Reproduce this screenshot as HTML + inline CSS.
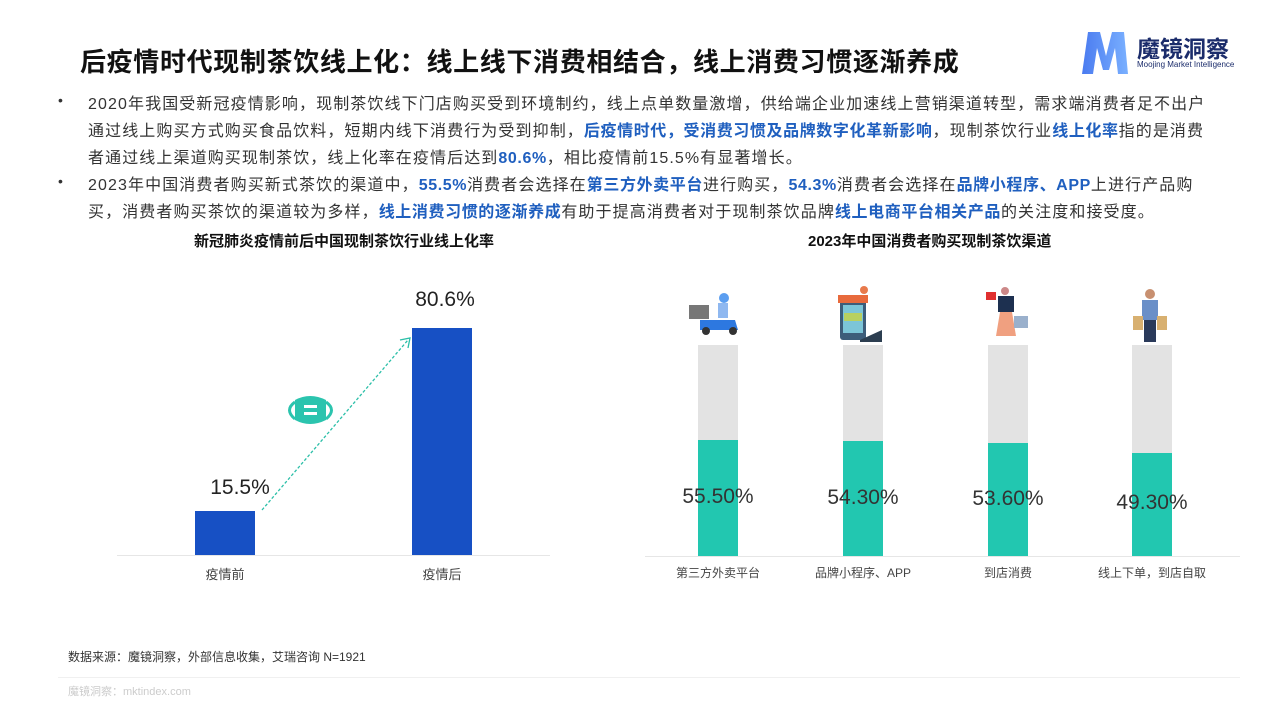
<!DOCTYPE html>
<html><head><meta charset="utf-8"><style>
body{margin:0;width:1280px;height:720px;background:#fff;position:relative;overflow:hidden;font-family:"Liberation Sans","Noto Sans CJK SC",sans-serif;color:#222}
.a{position:absolute;white-space:nowrap}
.t{left:80px;top:42px;font-size:26px;font-weight:bold;color:#111;letter-spacing:0.65px}
.p{left:88px;font-size:16px;color:#333;letter-spacing:1.1px}
.b{color:#1f5fbf;font-weight:bold;letter-spacing:0.6px}
.dot{left:58px;font-size:14px;color:#333}
.ct{font-size:15px;font-weight:bold;color:#111}
.cat{font-size:13px;color:#444;transform:translateX(-50%)}
.v{font-size:21px;color:#222;transform:translateX(-50%)}
</style></head><body>
<div class="a t">后疫情时代现制茶饮线上化：线上线下消费相结合，线上消费习惯逐渐养成</div>
<svg class="a" style="left:1078px;top:26px" width="180" height="52"><defs><linearGradient id="g" x1="0" x2="1"><stop offset="0" stop-color="#4a7bf0"/><stop offset="1" stop-color="#7ab0ff"/></linearGradient></defs><path d="M4 48 L10 6 L22 6 L28 30 L34 6 L46 6 L50 48 L40 48 L37 22 L31 44 L25 44 L19 22 L15 48Z" fill="url(#g)"/></svg>
<div class="a" style="left:1137px;top:30px;font-size:23px;font-weight:bold;color:#1b2c6b">魔镜洞察</div>
<div class="a" style="left:1137px;top:60px;font-size:8px;color:#1b2c6b">Moojing Market Intelligence</div>

<div class="a dot" style="top:92px">•</div>
<div class="a p" style="top:90px">2020年我国受新冠疫情影响，现制茶饮线下门店购买受到环境制约，线上点单数量激增，供给端企业加速线上营销渠道转型，需求端消费者足不出户</div>
<div class="a p" style="top:117px">通过线上购买方式购买食品饮料，短期内线下消费行为受到抑制，<span class="b">后疫情时代，受消费习惯及品牌数字化革新影响</span>，现制茶饮行业<span class="b">线上化率</span>指的是消费</div>
<div class="a p" style="top:144px">者通过线上渠道购买现制茶饮，线上化率在疫情后达到<span class="b">80.6%</span>，相比疫情前15.5%有显著增长。</div>
<div class="a dot" style="top:173px">•</div>
<div class="a p" style="top:171px">2023年中国消费者购买新式茶饮的渠道中，<span class="b">55.5%</span>消费者会选择在<span class="b">第三方外卖平台</span>进行购买，<span class="b">54.3%</span>消费者会选择在<span class="b">品牌小程序、APP</span>上进行产品购</div>
<div class="a p" style="top:198px">买，消费者购买茶饮的渠道较为多样，<span class="b">线上消费习惯的逐渐养成</span>有助于提高消费者对于现制茶饮品牌<span class="b">线上电商平台相关产品</span>的关注度和接受度。</div>

<div class="a ct" style="left:194px;top:230px">新冠肺炎疫情前后中国现制茶饮行业线上化率</div>
<div class="a ct" style="left:808px;top:230px">2023年中国消费者购买现制茶饮渠道</div>

<svg class="a" style="left:0;top:0" width="1280" height="720">
<line x1="117" y1="555.5" x2="550" y2="555.5" stroke="#e6e6e6"/>
<rect x="195" y="511" width="60" height="44" fill="#1750c4"/>
<rect x="412" y="328" width="60" height="227" fill="#1750c4"/>
<line x1="262" y1="510" x2="408" y2="340" stroke="#2bbfa8" stroke-width="1.3" stroke-dasharray="3,2"/>
<path d="M400 340 L410 338 L408 348" fill="none" stroke="#2bbfa8" stroke-width="1.3"/>
<path d="M295 400 Q310 392 326 400 L326 420 Q310 428 295 420Z" fill="#2bc4ae"/>
<path d="M295 402 Q284 410 295 419 M326 402 Q337 410 326 419" fill="none" stroke="#2bc4ae" stroke-width="3"/>
<rect x="304" y="405" width="13" height="3" fill="#fff"/><rect x="304" y="412" width="13" height="3" fill="#fff"/>

<line x1="645" y1="556.5" x2="1240" y2="556.5" stroke="#e6e6e6"/>
<rect x="698" y="345" width="40" height="211" fill="#e3e3e3"/><rect x="698" y="440" width="40" height="116" fill="#22c7b0"/>
<rect x="843" y="345" width="40" height="211" fill="#e3e3e3"/><rect x="843" y="441" width="40" height="115" fill="#22c7b0"/>
<rect x="988" y="345" width="40" height="211" fill="#e3e3e3"/><rect x="988" y="443" width="40" height="113" fill="#22c7b0"/>
<rect x="1132" y="345" width="40" height="211" fill="#e3e3e3"/><rect x="1132" y="453" width="40" height="103" fill="#22c7b0"/>
<rect x="689" y="305" width="20" height="14" fill="#777"/><path d="M700 320 L735 320 L738 330 L700 330Z" fill="#2d78e0"/><circle cx="706" cy="331" r="4" fill="#333"/><circle cx="733" cy="331" r="4" fill="#333"/><circle cx="724" cy="298" r="5" fill="#5b9ef0"/><rect x="718" y="303" width="10" height="15" fill="#8fb8f0"/>
<rect x="840" y="300" width="26" height="40" rx="3" fill="#3d5d7a"/><rect x="843" y="305" width="20" height="28" fill="#7cc5d8"/><rect x="838" y="295" width="30" height="8" fill="#e86a3c"/><rect x="844" y="313" width="18" height="8" fill="#b8d060"/><path d="M860 340 L882 330 L882 342 L860 342Z" fill="#2c3e50"/><circle cx="864" cy="290" r="4" fill="#e87a4c"/>
<rect x="986" y="292" width="10" height="8" fill="#e03030"/><circle cx="1005" cy="291" r="4" fill="#c88"/><rect x="998" y="296" width="16" height="16" fill="#1d3050"/><path d="M1000 312 L1012 312 L1016 336 L996 336Z" fill="#f0a080"/><rect x="1014" y="316" width="14" height="12" fill="#9ab0cc"/>
<circle cx="1150" cy="294" r="5" fill="#c89070"/><rect x="1142" y="300" width="16" height="20" fill="#6a8fc8"/><rect x="1144" y="320" width="12" height="22" fill="#2a3a5a"/><rect x="1133" y="316" width="10" height="14" fill="#d8b070"/><rect x="1157" y="316" width="10" height="14" fill="#d8b070"/>
<line x1="58" y1="677.5" x2="1240" y2="677.5" stroke="#f0f0f0"/>
</svg>

<div class="a v" style="left:240px;top:476px">15.5%</div>
<div class="a v" style="left:445px;top:288px">80.6%</div>
<div class="a cat" style="left:225px;top:564px">疫情前</div>
<div class="a cat" style="left:442px;top:564px">疫情后</div>

<div class="a v" style="left:718px;top:485px;color:#333">55.50%</div>
<div class="a v" style="left:863px;top:486px;color:#333">54.30%</div>
<div class="a v" style="left:1008px;top:487px;color:#333">53.60%</div>
<div class="a v" style="left:1152px;top:491px;color:#333">49.30%</div>
<div class="a cat" style="left:718px;top:564px;font-size:12px">第三方外卖平台</div>
<div class="a cat" style="left:863px;top:564px;font-size:12px">品牌小程序、APP</div>
<div class="a cat" style="left:1008px;top:564px;font-size:12px">到店消费</div>
<div class="a cat" style="left:1152px;top:564px;font-size:12px">线上下单，到店自取</div>

<div class="a" style="left:68px;top:648px;font-size:12px;color:#333">数据来源：魔镜洞察，外部信息收集，艾瑞咨询 N=1921</div>
<div class="a" style="left:68px;top:683px;font-size:11px;color:#ccc">魔镜洞察：mktindex.com</div>
</body></html>
